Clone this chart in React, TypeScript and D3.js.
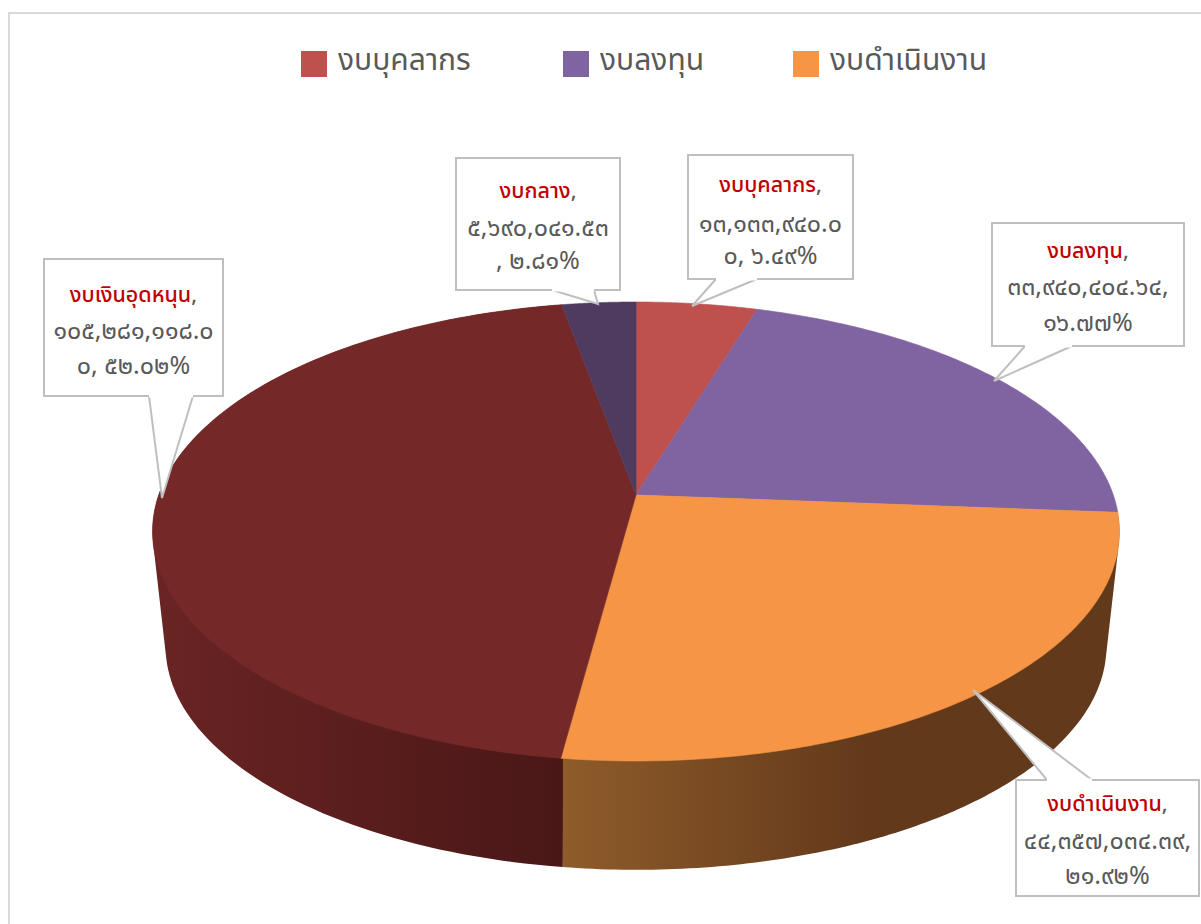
import React from "react";
import * as d3 from "d3";

const categories = ["งบบุคลากร", "งบลงทุน", "งบดำเนินงาน", "งบเงินอุดหนุน", "งบกลาง"];
// Slice shares as they appear in the 3-D drawing (%)
const drawnShares = [4.72, 21.5, 25.9, 45.0, 2.88];
const topColors = ["#BE504D", "#8063A1", "#F59545", "#752828", "#4F3A60"];
const sideStart = ["#7a3230", "#513f66", "#8f5c2a", "#6a2424", "#3a2a46"];
const sideEnd = ["#7a3230", "#513f66", "#63391b", "#4a1717", "#3a2a46"];
const visibleSides = [2, 3];
const legendItems = [0, 1, 2];
const legendX = [301, 563, 793];
const valueLines = [
  ["๑๓,๑๓๓,๙๔๐.๐", "๐, ๖.๔๙%"],
  ["๓๓,๙๔๐,๔๐๔.๖๔,", "๑๖.๗๗%"],
  ["๔๔,๓๕๗,๐๓๔.๓๙,", "๒๑.๙๒%"],
  ["๑๐๕,๒๘๑,๑๑๘.๐", "๐, ๕๒.๐๒%"],
  ["๕,๖๙๐,๐๔๑.๕๓", ", ๒.๘๑%"],
];
const boxes = [
  { x: 688, y: 155, w: 165, h: 124, lineY: [192, 232, 264], tail: [[716, 279], [692, 306], [757, 279]] },
  { x: 992, y: 223, w: 192, h: 123, lineY: [258, 295, 331], tail: [[1025, 346], [994, 381], [1072, 346]] },
  { x: 1016, y: 780, w: 183, h: 116, lineY: [811, 849, 884], tail: [[1047, 780], [973, 690], [1092, 780]] },
  { x: 44, y: 259, w: 179, h: 137, lineY: [302, 339, 374], tail: [[149, 396], [162, 498], [193, 396]] },
  { x: 456, y: 158, w: 164, h: 132, lineY: [198, 236, 269], tail: [[552, 290], [598, 304], [594, 290]] },
];

const CX = 636, CY = 495, K = 0.159, A = 223.7, B = 477.3;
const SIDE_SCALE = 0.973, SIDE_CY = 611;
const fontFamily = "'Noto Sans', 'Noto Sans Thai', Lato, sans-serif";

function topPoint(t: number): [number, number] {
  const u = Math.sin(t), v = -Math.cos(t);
  const d = 1 - K * v;
  return [CX + (B * u) / d, CY + (A * v) / d];
}
function botPoint(t: number): [number, number] {
  const [x, y] = topPoint(t);
  return [CX + SIDE_SCALE * (x - CX), SIDE_CY + SIDE_SCALE * (y - CY)];
}

export default function App() {
  const arcs = d3.pie<number>().sort(null)(drawnShares);
  const line = d3.line();
  const slicePoints = (a: number, b: number, f: (t: number) => [number, number]) =>
    d3.range(0, 121).map((i) => f(a + ((b - a) * i) / 120));

  return (
    <svg width={1201} height={924} style={{ position: "absolute", left: 0, top: 0, background: "#fff" }}>
      <defs>
        {arcs.map((a, i) => {
          const xs = slicePoints(a.startAngle, a.endAngle, topPoint).map((p) => p[0]);
          return (
            <linearGradient key={i} id={`side${i}`} gradientUnits="userSpaceOnUse"
              x1={d3.min(xs)} x2={d3.max(xs)} y1={0} y2={0}>
              <stop offset="0" stopColor={sideStart[i]} />
              <stop offset={i === 2 ? 0.55 : 1} stopColor={sideEnd[i]} />
              <stop offset="1" stopColor={sideEnd[i]} />
            </linearGradient>
          );
        })}
      </defs>
      <rect x={9} y={13} width={1200} height={920} fill="#fff" stroke="#d9d9d9" strokeWidth={2} />
      {visibleSides.map((i) => {
        const a = arcs[i];
        const hull = d3.polygonHull([
          ...slicePoints(a.startAngle, a.endAngle, topPoint),
          ...slicePoints(a.startAngle, a.endAngle, botPoint),
        ])!;
        return <path key={i} d={line(hull)! + "Z"} fill={`url(#side${i})`} />;
      })}
      {arcs.map((a, i) => (
        <path key={i} d={line([[CX, CY], ...slicePoints(a.startAngle, a.endAngle, topPoint)])! + "Z"}
          fill={topColors[i]} stroke={topColors[i]} strokeWidth={0.6} />
      ))}
      {legendItems.map((i, k) => (
        <g key={i}>
          <rect x={legendX[k]} y={51} width={26} height={26} fill={topColors[i]} />
          <text x={legendX[k] + 37} y={70} fontSize={30} fill="#595959" fontFamily={fontFamily}>{categories[i]}</text>
        </g>
      ))}
      {boxes.map((b, i) => {
        const xm = b.x + b.w / 2;
        const [p1, tip, p2] = b.tail;
        return (
          <g key={i} fontFamily={fontFamily} textAnchor="middle">
            <rect x={b.x} y={b.y} width={b.w} height={b.h} fill="#fff" stroke="#bfbfbf" strokeWidth={2} />
            <path d={line([p1 as [number, number], tip as [number, number], p2 as [number, number]])!}
              fill="#fff" stroke="#bfbfbf" strokeWidth={2} />
            <path d={line([p1 as [number, number], p2 as [number, number]])!} stroke="#fff" strokeWidth={3} />
            <text x={xm} y={b.lineY[0]} fontSize={21.5} fontWeight={500}>
              <tspan fill="#C00000">{categories[i]}</tspan><tspan fill="#595959">,</tspan>
            </text>
            <text x={xm} y={b.lineY[1]} fontSize={25} fill="#595959">{valueLines[i][0]}</text>
            <text x={xm} y={b.lineY[2]} fontSize={25} fill="#595959">{valueLines[i][1]}</text>
          </g>
        );
      })}
    </svg>
  );
}
